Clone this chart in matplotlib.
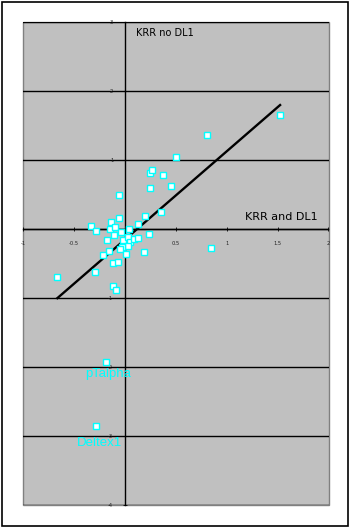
import matplotlib
matplotlib.use("Agg")
import matplotlib.pyplot as plt
from matplotlib.patches import Rectangle

# scatter points (KRR and DL1 vs KRR no DL1)
x_vals = [0.50, 0.246, 0.263, 0.371, 0.456, 0.25, -0.055, 0.358, -0.055, 0.20,
          0.13, -0.134, -0.33, -0.29, -0.15, -0.10, -0.039, 0.043, 0.236, -0.104,
          -0.18, -0.02, 0.033, 0.05, 0.09, 0.125, 0.027, -0.026, -0.05, -0.157,
          0.01, 0.19, -0.213, -0.114, -0.072, -0.295, -0.672, -0.114, -0.092, 0.843,
          0.81, 1.524, -0.187, -0.285]
y_vals = [1.05, 0.82, 0.86, 0.79, 0.63, 0.59, 0.50, 0.25, 0.165, 0.196,
          0.075, 0.10, 0.05, -0.026, 0.007, 0.036, -0.045, -0.002, -0.068, -0.078,
          -0.157, -0.16, -0.12, -0.18, -0.147, -0.13, -0.244, -0.26, -0.29, -0.31,
          -0.36, -0.33, -0.37, -0.49, -0.47, -0.62, -0.70, -0.82, -0.88, -0.28,
          1.36, 1.656, -1.93, -2.85]

# trend line ends
line_x = [-0.665, 1.524]
line_y = [-1.0, 1.80]

# labelled outliers
out_names = ["pTalpha", "Deltex1"]
out_lab_x = [-0.167, -0.252]
out_lab_y = [-2.10, -3.10]

x_ticks = [-1, -0.5, 0, 0.5, 1, 1.5, 2]
x_tick_labels = ["-1", "-0.5", "0", "0.5", "1", "1.5", "2"]
y_ticks = [-4, -3, -2, -1, 0, 1, 2, 3]

fig = plt.figure(figsize=(3.51, 5.28), dpi=100)
fig.patch.set_facecolor("white")
fig.patches.append(Rectangle((2/351, 2/528), 346/351, 524/528, transform=fig.transFigure,
                             fill=False, edgecolor="black", lw=1.2))

ax = fig.add_axes([23.3/351, 23/528, 305.2/351, 482.7/528])
ax.set_facecolor("#c0c0c0")
ax.set_xlim(-1, 2)
ax.set_ylim(-4, 3)

for s in ["top", "right"]:
    ax.spines[s].set_visible(False)
ax.spines["left"].set_position("zero")
ax.spines["bottom"].set_position("zero")
ax.spines["left"].set_color("black")
ax.spines["bottom"].set_color("black")
ax.spines["left"].set_linewidth(1.0)
ax.spines["bottom"].set_linewidth(1.0)

# grey frame around plot area
ax.add_patch(Rectangle((0, 0), 1, 1, transform=ax.transAxes, fill=False,
                       edgecolor="#808080", lw=1.0, zorder=0.5, clip_on=False))

ax.set_yticks(y_ticks)
ax.set_yticklabels([str(v) for v in y_ticks])
ax.set_xticks(x_ticks)
ax.set_xticklabels(x_tick_labels)
ax.tick_params(axis="both", direction="inout", length=3, width=0.6,
               labelsize=3.7, labelcolor="#222222", color="black")
ax.tick_params(axis="x", pad=7)
ax.tick_params(axis="y", pad=7)
ax.yaxis.grid(True, color="black", lw=1.0)
ax.set_axisbelow(True)

ax.plot(line_x, line_y, color="black", lw=1.7, zorder=3)
ax.plot(x_vals, y_vals, ls="none", marker="s", ms=4, mfc="white",
        mec="#00ffff", mew=1.0, zorder=4)

ax.text(0.105, 2.845, "KRR no DL1", fontsize=7, color="black", va="center", ha="left")
ax.text(1.177, 0.17, "KRR and DL1", fontsize=8, color="black", va="center", ha="left")
for name, lx, ly in zip(out_names, out_lab_x, out_lab_y):
    ax.text(lx, ly, name, fontsize=9.5, color="#00ffff", ha="center", va="center",
            family="Liberation Sans")

fig.savefig("out.png", dpi=100)
